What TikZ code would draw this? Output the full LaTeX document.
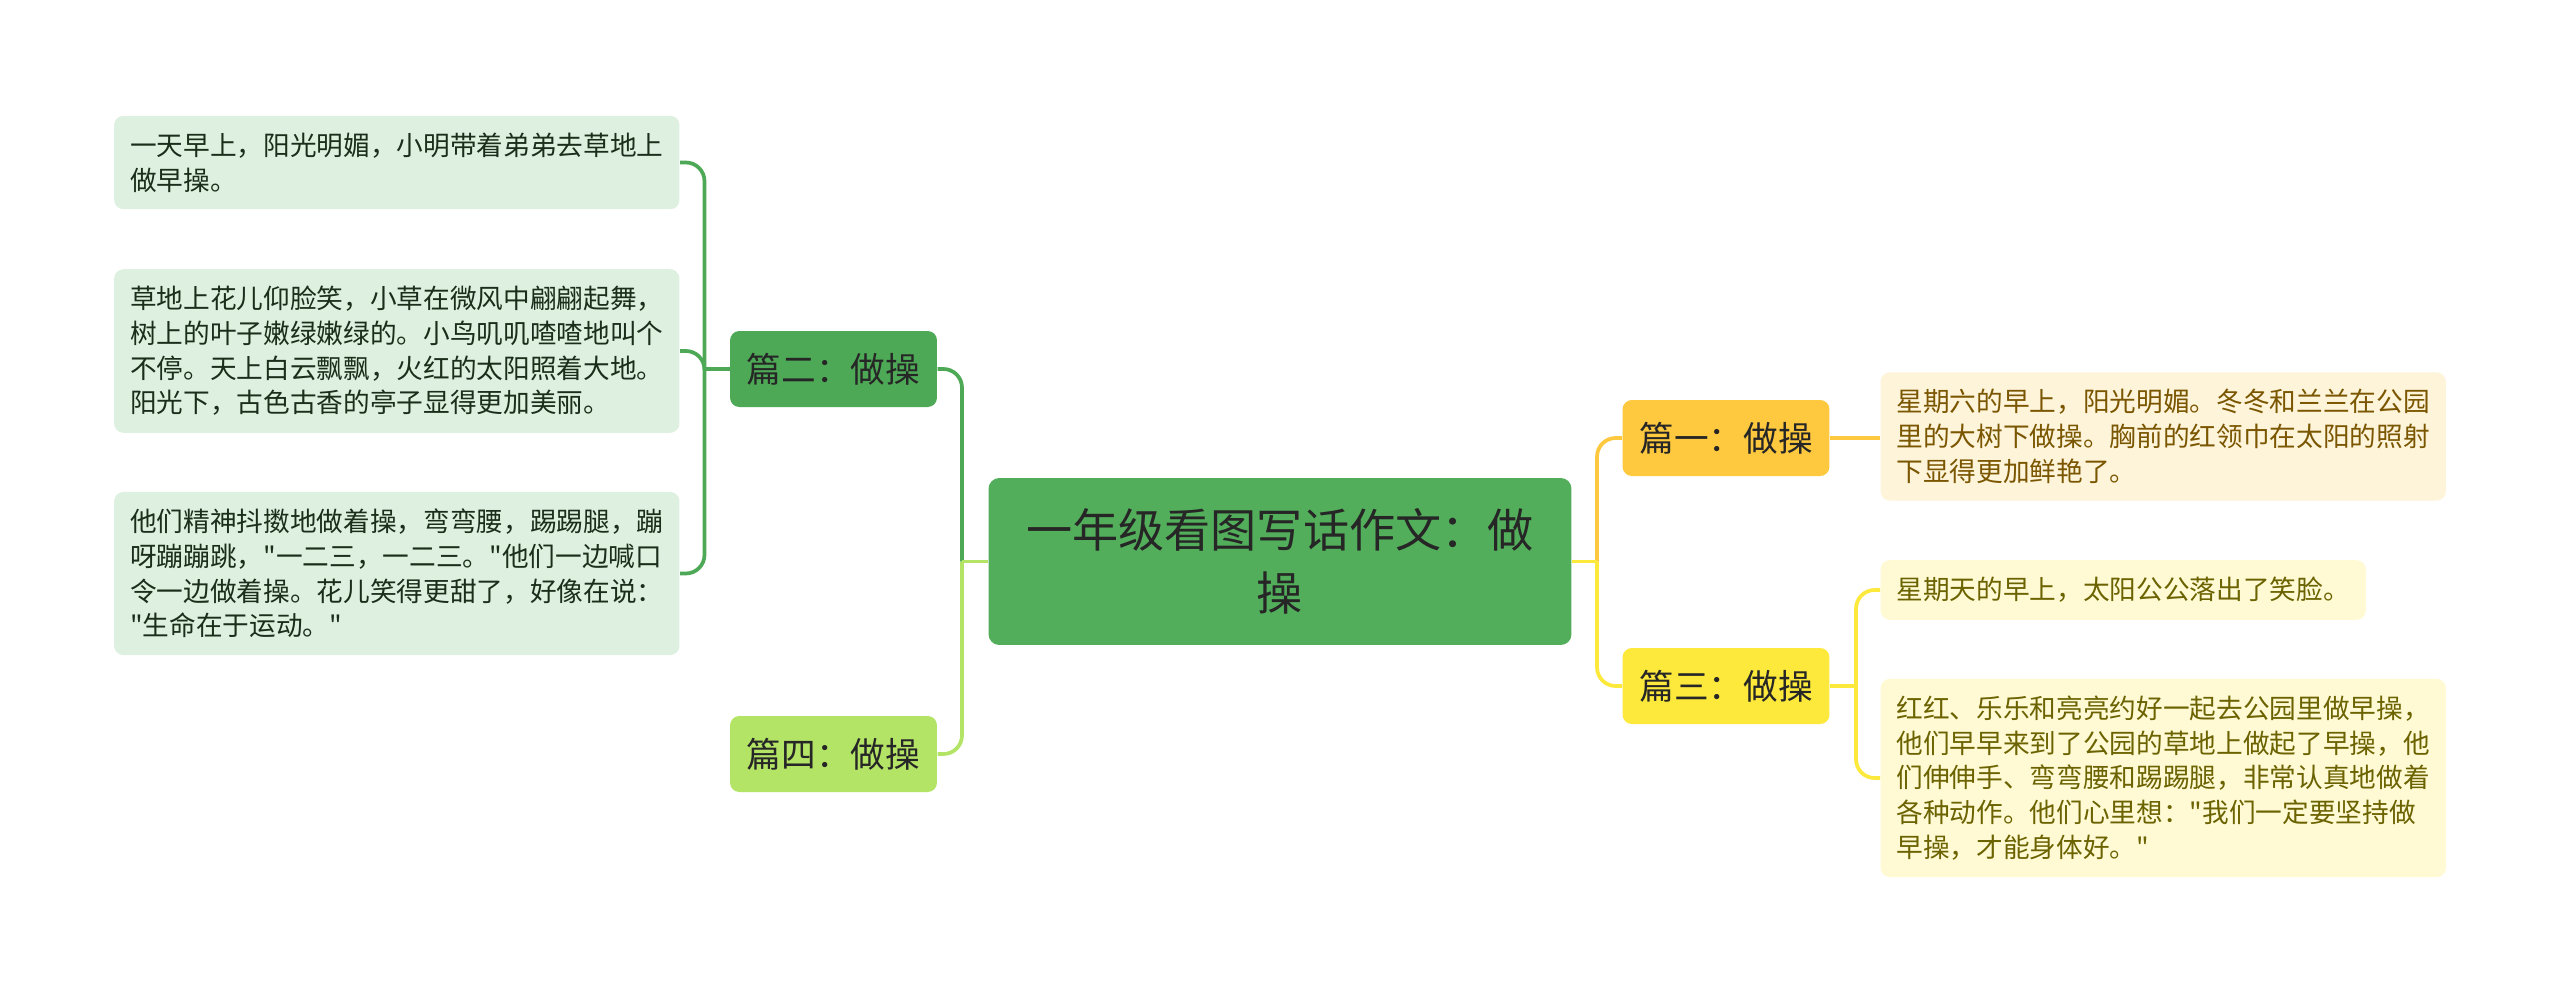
\documentclass[tikz,border=0pt]{standalone}
\usepackage{fontspec}
\usepackage{tikz}
\usetikzlibrary{positioning}
\newfontfamily\zhfont{Noto Sans CJK SC}
\definecolor{mmroot}{HTML}{53AE5B}
\definecolor{mmgreen}{HTML}{4EA957}
\definecolor{mmlime}{HTML}{B4E466}
\definecolor{mmamber}{HTML}{FEC93F}
\definecolor{mmyellow}{HTML}{FDE93C}
\definecolor{mmgreenbg}{HTML}{DEF0DF}
\definecolor{mmamberbg}{HTML}{FEF4DA}
\definecolor{mmyellowbg}{HTML}{FFFAD4}
\definecolor{mmink}{HTML}{262626}
\definecolor{mmgreenink}{HTML}{1A2E1B}
\definecolor{mmamberink}{HTML}{7A5600}
\definecolor{mmyellowink}{HTML}{6B6200}
\tikzset{
  topic/.style={fill=mmroot,rounded corners=4pt,text=mmink,align=center,
              minimum width=218.6pt,minimum height=62.6pt,inner sep=0pt,
              font=\zhfont\fontsize{17.3}{23.5}\selectfont},
  part/.style={rounded corners=3.5pt,text=mmink,minimum width=77.6pt,
              minimum height=28.5pt,inner sep=0pt,
              font=\zhfont\fontsize{13}{16}\selectfont},
  note/.style={rounded corners=3.5pt,align=left,inner xsep=6pt,inner ysep=6.4pt,
              font=\zhfont\fontsize{10}{13}\selectfont},
  gnote/.style={note,fill=mmgreenbg,text=mmgreenink},
  anote/.style={note,fill=mmamberbg,text=mmamberink},
  ynote/.style={note,fill=mmyellowbg,text=mmyellowink},
  link/.style={line width=1.4pt,rounded corners=7pt},
}

\begin{document}
\begin{tikzpicture}[x=0.375pt,y=-0.375pt]

  % ---------- canvas ----------
  \fill[white] (0,0) rectangle (2560,995);

  % ---------- centre topic ----------
  \node[topic] (root) at (1280,561.5) {一年级看图写话作文：做\\操};

  % ---------- parts ----------
  \node[part,fill=mmgreen]  (p2) at (833.5,369) {篇二：做操};
  \node[part,fill=mmlime]   (p4) at (833.5,754) {篇四：做操};
  \node[part,fill=mmamber]  (p1) at (1726,438)  {篇一：做操};
  \node[part,fill=mmyellow] (p3) at (1726,686)  {篇三：做操};

  % ---------- notes (left) ----------
  \node[gnote,anchor=east] (g1) at (680,162.5)
    {一天早上，阳光明媚，小明带着弟弟去草地上\\做早操。};
  \node[gnote,anchor=east] (g2) at (680,351)
    {草地上花儿仰脸笑，小草在微风中翩翩起舞，\\树上的叶子嫩绿嫩绿的。小鸟叽叽喳喳地叫个\\不停。天上白云飘飘，火红的太阳照着大地。\\阳光下，古色古香的亭子显得更加美丽。};
  \node[gnote,anchor=east] (g3) at (680,573.5)
    {他们精神抖擞地做着操，弯弯腰，踢踢腿，蹦\\呀蹦蹦跳，"一二三，一二三。"他们一边喊口\\令一边做着操。花儿笑得更甜了，好像在说：\\"生命在于运动。"};

  % ---------- notes (right) ----------
  \node[anote,anchor=west] (a1) at (1880,436.5)
    {星期六的早上，阳光明媚。冬冬和兰兰在公园\\里的大树下做操。胸前的红领巾在太阳的照射\\下显得更加鲜艳了。};
  \node[ynote,anchor=west] (y1) at (1880,590)
    {星期天的早上，太阳公公落出了笑脸。};
  \node[ynote,anchor=west] (y2) at (1880,778)
    {红红、乐乐和亮亮约好一起去公园里做早操，\\他们早早来到了公园的草地上做起了早操，他\\们伸伸手、弯弯腰和踢踢腿，非常认真地做着\\各种动作。他们心里想："我们一定要坚持做\\早操，才能身体好。"};

  % ---------- hubs ----------
  \path (root.west) ++(-26,0) coordinate (lhub);
  \path (root.east) ++(25,0)  coordinate (rhub);
  \path (p2.west)   ++(-25,0) coordinate (p2hub);
  \path (p3.east)   ++(26,0)  coordinate (p3hub);

  % ---------- branches ----------
  \draw[link,mmgreen] (lhub) |- (p2.east);
  \draw[link,mmlime]  (lhub) |- (p4.east);
  \draw[link,mmlime]  (root.west) -- (lhub);
  \draw[link,mmamber] (rhub) |- (p1.west);
  \draw[link,mmyellow] (rhub) |- (p3.west);
  \draw[link,mmyellow] (root.east) -- (rhub);

  \draw[link,mmgreen] (p2.west) -- (p2hub);
  \foreach \n in {g1,g2,g3}
    {\draw[link,mmgreen] (p2hub) |- (\n.east);}
  \draw[link,mmamber] (p1.east) -- (p1.east -| a1.west);
  \draw[link,mmyellow] (p3.east) -- (p3hub);
  \foreach \n in {y1,y2}
    {\draw[link,mmyellow] (p3hub) |- (\n.west);}
\end{tikzpicture}
\end{document}
